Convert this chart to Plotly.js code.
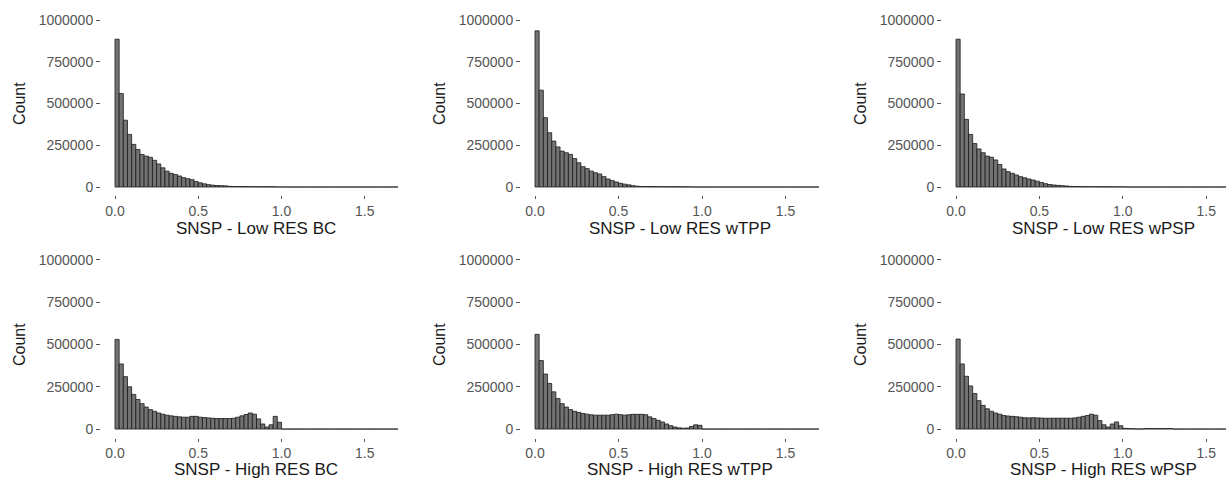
<!DOCTYPE html>
<html>
<head>
<meta charset="utf-8">
<script src="https://cdn.plot.ly/plotly-3.0.1.min.js"></script>
<style>
  html, body { margin: 0; padding: 0; background: #ffffff; }
  #chart { width: 1226px; height: 479px; }
</style>
</head>
<body>
<div id="chart"></div>
<script>
// ---- Data (histogram counts, bins of width 0.025 starting at 0) ----
const binStart = 0;
const binWidth = 0.025;

const panelTitles = [
  "SNSP - Low RES BC", "SNSP - Low RES wTPP", "SNSP - Low RES wPSP",
  "SNSP - High RES BC", "SNSP - High RES wTPP", "SNSP - High RES wPSP"
];

const lowBC = [
  885000, 560000, 400000, 315000, 255000, 225000, 195000, 185000, 178000, 160000,
  138000, 115000, 95000, 82000, 75000, 66000, 56000, 50000, 44000, 33000,
  25000, 19000, 14000, 11000, 9000, 8000, 7000, 4000, 3000, 3000,
  2500, 2500, 2000, 2000, 1500, 1500, 1500, 1000, 1000, 500,
  0, 0, 0, 0, 0, 0, 0, 0, 0, 0,
  0, 0, 0, 0, 0, 0, 0, 0, 0, 0,
  0, 0, 0, 0, 0, 0, 0, 0
];

const lowTPP = [
  935000, 580000, 415000, 325000, 275000, 240000, 215000, 205000, 195000, 170000,
  145000, 122000, 110000, 95000, 85000, 78000, 62000, 48000, 38000, 30000,
  22000, 17000, 13000, 8000, 5000, 3000, 3000, 2500, 2500, 2000,
  2000, 1500, 1500, 1500, 1000, 1000, 1000, 500, 0, 0,
  0, 0, 0, 0, 0, 0, 0, 0, 0, 0,
  0, 0, 0, 0, 0, 0, 0, 0, 0, 0,
  0, 0, 0, 0, 0, 0, 0, 0
];

const lowPSP = [
  885000, 557000, 405000, 315000, 260000, 228000, 205000, 185000, 178000, 162000,
  135000, 108000, 92000, 82000, 72000, 62000, 55000, 48000, 42000, 35000,
  27000, 20000, 15000, 12000, 10000, 8000, 6000, 4000, 2500, 2500,
  2000, 2000, 2000, 1500, 1500, 1500, 1000, 1000, 1000, 1000,
  500, 0, 0, 0, 0, 0, 0, 0, 0, 0,
  0, 0, 0, 0, 0, 0, 0, 0, 0, 0,
  0, 0, 0, 0, 0, 0, 0, 0
];

const highBC = [
  530000, 385000, 310000, 250000, 205000, 175000, 150000, 130000, 115000, 105000,
  95000, 88000, 82000, 78000, 75000, 72000, 70000, 70000, 75000, 75000,
  70000, 68000, 66000, 64000, 62000, 62000, 62000, 62000, 64000, 70000,
  78000, 86000, 95000, 88000, 60000, 30000, 12000, 25000, 75000, 40000,
  0, 0, 0, 0, 0, 0, 0, 0, 0, 0,
  0, 0, 0, 0, 0, 0, 0, 0, 0, 0,
  0, 0, 0, 0, 0, 0, 0, 0
];

const highTPP = [
  560000, 405000, 325000, 270000, 220000, 180000, 150000, 130000, 115000, 105000,
  98000, 92000, 88000, 84000, 82000, 82000, 82000, 82000, 85000, 88000,
  85000, 82000, 85000, 87000, 87000, 87000, 85000, 72000, 62000, 52000,
  42000, 30000, 20000, 12000, 7000, 5000, 6000, 15000, 25000, 22000,
  0, 0, 0, 0, 0, 0, 0, 0, 0, 0,
  0, 0, 0, 0, 0, 0, 0, 0, 0, 0,
  0, 0, 0, 0, 0, 0, 0, 0
];

const highPSP = [
  532000, 385000, 312000, 255000, 210000, 168000, 140000, 120000, 105000, 95000,
  88000, 80000, 77000, 75000, 73000, 70000, 67000, 66000, 67000, 66000,
  65000, 64000, 64000, 64000, 64000, 64000, 64000, 64000, 66000, 70000,
  75000, 80000, 88000, 82000, 50000, 25000, 12000, 30000, 42000, 20000,
  4000, 3000, 2000, 500, 500, 3000, 3000, 3000, 3000, 3000,
  3000, 3000, 0, 0, 0, 0, 0, 0, 0, 0,
  0, 0, 0, 0, 0, 0, 0, 0
];

const yTickVals = [0, 250000, 500000, 750000, 1000000];
const yTickText = ["0", "250000", "500000", "750000", "1000000"];
const xTickVals = [0, 0.5, 1.0, 1.5];
const xTickText = ["0.0", "0.5", "1.0", "1.5"];

// ---- Layout geometry (pixels) ----
const W = 1226, H = 479;
const FONT = "Liberation Sans, Arial, sans-serif";
const cols = [
  {l: 101, r: 409, x0: 115, s: 166.5, tx: 256, cx: 19.5},
  {l: 521, r: 830, x0: 535, s: 167.0, tx: 680, cx: 439.5},
  {l: 942, r: 1226, x0: 956, s: 166.8, tx: 1103, cx: 860.5}
];
const rows = [
  {t: 11.65, b: 195.35, ty: 229, cy: 103.5},
  {t: 251.5, b: 437.5, ty: 469.5, cy: 344.5}
];

const series = [lowBC, lowTPP, lowPSP, highBC, highTPP, highPSP];

const data = [];
const layout = {
  width: W, height: H,
  margin: {l: 0, r: 0, t: 0, b: 0},
  paper_bgcolor: "#ffffff",
  plot_bgcolor: "#ffffff",
  showlegend: false,
  bargap: 0,
  font: {family: FONT},
  annotations: []
};

series.forEach((vals, i) => {
  const r = Math.floor(i / 3), c = i % 3;
  const col = cols[c], row = rows[r];
  const n = i + 1;
  const xa = n === 1 ? "xaxis" : "xaxis" + n;
  const ya = n === 1 ? "yaxis" : "yaxis" + n;
  data.push({
    type: "bar",
    x0: binStart + binWidth / 2,
    dx: binWidth,
    y: vals,
    xaxis: "x" + (n === 1 ? "" : n),
    yaxis: "y" + (n === 1 ? "" : n),
    marker: {color: "#737373", line: {color: "#1a1a1a", width: 0.8}},
    hoverinfo: "skip"
  });
  layout[xa] = {
    domain: [col.l / W, col.r / W],
    range: [(col.l - col.x0) / col.s, (col.r - col.x0) / col.s],
    anchor: "y" + (n === 1 ? "" : n),
    tickmode: "array", tickvals: xTickVals, ticktext: xTickText,
    ticks: "outside", ticklen: 3, tickwidth: 1, tickcolor: "#555555",
    tickfont: {family: FONT, size: 14, color: "#555555"},
    showgrid: false, zeroline: false, showline: false, fixedrange: true
  };
  layout[ya] = {
    domain: [1 - row.b / H, 1 - row.t / H],
    range: [-50000, 1050000],
    anchor: "x" + (n === 1 ? "" : n),
    tickmode: "array", tickvals: yTickVals, ticktext: yTickText,
    ticks: "outside", ticklen: 4, tickwidth: 1, tickcolor: "#555555",
    tickfont: {family: FONT, size: 14, color: "#555555"},
    showgrid: false, zeroline: false, showline: false, fixedrange: true
  };
  layout.annotations.push({
    text: panelTitles[i], xref: "paper", yref: "paper",
    x: col.tx / W, y: 1 - row.ty / H, xanchor: "center", yanchor: "middle",
    showarrow: false, font: {family: FONT, size: 17, color: "#1a1a1a"}
  });
  layout.annotations.push({
    text: "Count", xref: "paper", yref: "paper", textangle: -90,
    x: col.cx / W, y: 1 - row.cy / H, xanchor: "center", yanchor: "middle",
    showarrow: false, font: {family: FONT, size: 16, color: "#1a1a1a"}
  });
});

Plotly.newPlot("chart", data, layout, {displayModeBar: false, staticPlot: true});
</script>
</body>
</html>
